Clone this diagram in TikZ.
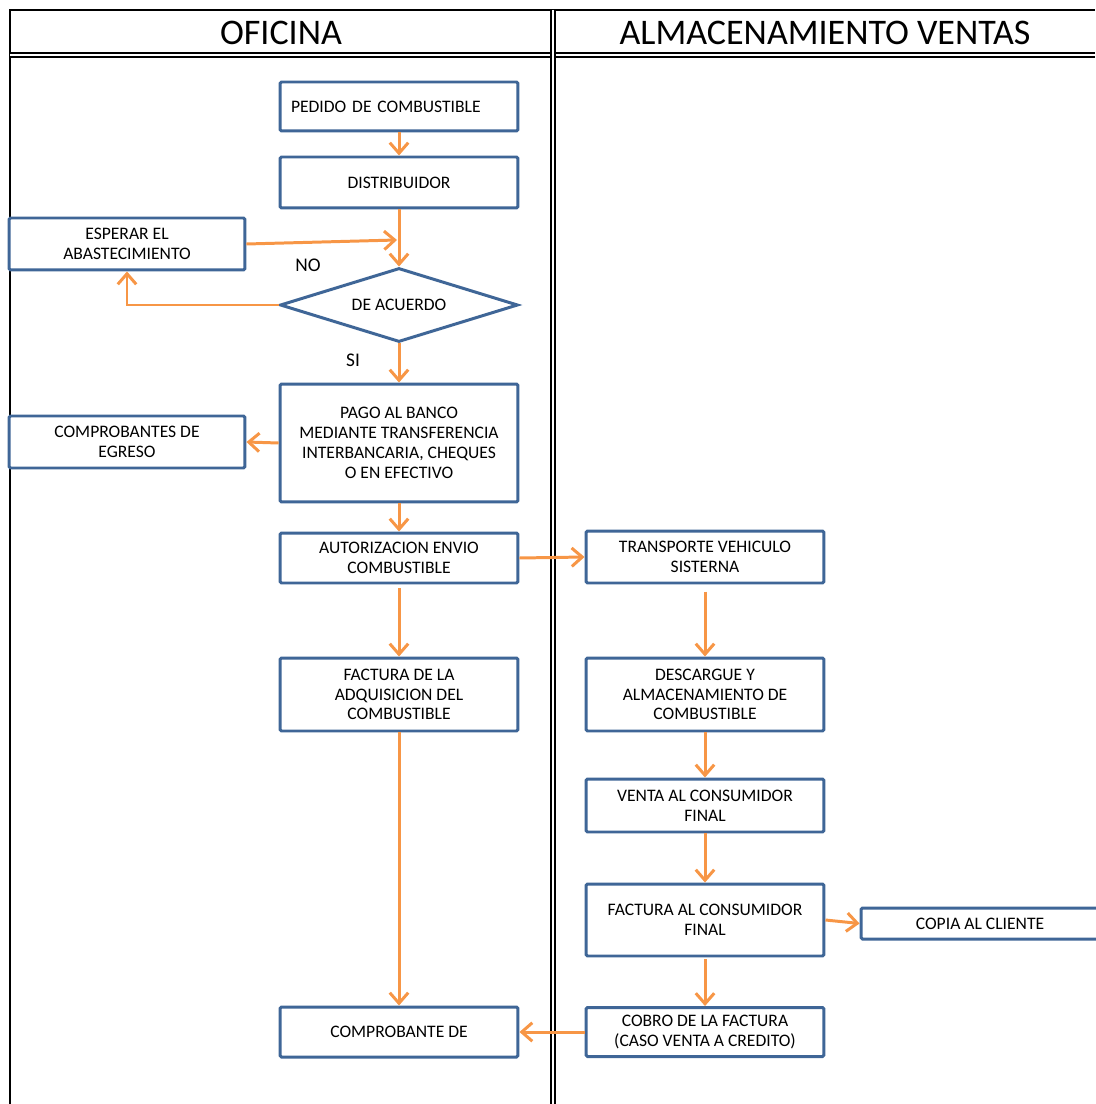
\documentclass[tikz,border=0pt]{standalone}
\usepackage{fontspec}
\setmainfont{Carlito}
\usetikzlibrary{arrows.meta,shapes.geometric,positioning}
\definecolor{borde}{HTML}{3F6697}
\definecolor{naranja}{HTML}{F79646}
\tikzset{
  pre/.style      = {{Straight Barb[length=6pt,width=10.5pt]}-, draw=naranja, line width=1.7pt},
  post/.style     = {-{Straight Barb[length=6pt,width=10.5pt]}, draw=naranja, line width=1.7pt},
  paso/.style     = {draw=borde, line width=1.7pt, fill=white, rectangle, rounded corners=0.8pt,
                     minimum width=4.76cm, inner sep=2pt, align=center,
                     font=\fontsize{10}{11.3}\selectfont},
  decision/.style = {draw=borde, line width=1.7pt, fill=white, diamond, aspect=3.2,
                     minimum width=4.76cm, minimum height=1.48cm, inner sep=0pt,
                     font=\fontsize{10}{11.3}\selectfont},
  carril/.style   = {draw=black, line width=1.2pt},
  divisor/.style  = {draw=black, line width=1.1pt, double, double distance=1.1pt},
  titulo/.style   = {font=\fontsize{20.5}{24}\selectfont},
  etiqueta/.style = {font=\fontsize{11}{13}\selectfont}
}

\begin{document}
\begin{tikzpicture}[x=0.02cm, y=-0.02cm]
  \useasboundingbox (0,0) rectangle (1095,1104);

  % carriles
  \draw[carril] (10,1104) -- (10,10) -- (1095,10);
  \draw[divisor] (10,55) -- (1095,55);
  \draw[divisor] (553,10) -- (553,1104);
  \node[titulo] (oficina) at (281,33) {OFICINA};
  \node[titulo] (almacen) at (825,33) {ALMACENAMIENTO VENTAS};

  % oficina
  \node[paso, minimum height=0.98cm, text width=4.32cm, align=left] (pedido) at (399,106.5) {PEDIDO DE COMBUSTIBLE};
  \node[paso, minimum height=1.02cm] (distrib) at (399,182.5) {DISTRIBUIDOR}
    edge [pre] (pedido);
  \node[paso, minimum height=1.04cm, minimum width=4.72cm] (esperar) at (127,244) {ESPERAR EL\\ABASTECIMIENTO};
  \node[decision] (acuerdo) at (399,305) {DE ACUERDO}
    edge [pre] (distrib);
  \coordinate (union) at (397,240);
  \node[etiqueta] (no) at (308,265) {NO};
  \node[etiqueta] (si) at (353,360) {SI};
  \node[paso, minimum height=2.36cm] (pago) at (399,443)
    {PAGO AL BANCO\\MEDIANTE TRANSFERENCIA\\INTERBANCARIA, CHEQUES\\O EN EFECTIVO}
    edge [pre] (acuerdo);
  \node[paso, minimum height=1.04cm, minimum width=4.72cm] (egreso) at (127,442) {COMPROBANTES DE\\EGRESO};
  \node[paso, minimum height=1cm] (autoriz) at (399,558) {AUTORIZACION ENVIO\\COMBUSTIBLE}
    edge [pre] (pago);
  \node[paso, minimum height=1.46cm] (adquis) at (399,694.5) {FACTURA DE LA\\ADQUISICION DEL\\COMBUSTIBLE};
  \node[paso, minimum height=1cm] (comprob) at (399,1032) {COMPROBANTE DE}
    edge [pre] (adquis);

  % almacenamiento ventas
  \node[paso, minimum height=1.04cm] (transp) at (705,557) {TRANSPORTE VEHICULO\\SISTERNA};
  \node[paso, minimum height=1.46cm] (descarg) at (705,694.5) {DESCARGUE Y\\ALMACENAMIENTO DE\\COMBUSTIBLE};
  \node[paso, minimum height=1.06cm] (venta) at (705,805.5) {VENTA AL CONSUMIDOR\\FINAL}
    edge [pre] (descarg);
  \node[paso, minimum height=1.44cm] (factcf) at (705,920) {FACTURA AL CONSUMIDOR\\FINAL}
    edge [pre] (venta);
  \node[paso, minimum height=0.62cm] (copia) at (980,923.5) {COPIA AL CLIENTE};
  \node[paso, minimum height=0.98cm] (cobro) at (705,1032) {COBRO DE LA FACTURA\\(CASO VENTA A CREDITO)};

  % flechas
  \draw[post] (esperar.east) -- (union);
  \draw[post] (acuerdo.west) -| (esperar.south);
  \draw[post] (pago.west) -- (egreso.east);
  \draw[post] (autoriz.east) -- (transp.west);
  \draw[post, shorten <=2pt] (autoriz.south) -- (adquis.north);
  \draw[post, shorten <=4pt] (transp.south) -- (descarg.north);
  \draw[post] (factcf.east) -- (copia.west);
  \draw[post, shorten <=1pt] (factcf.south) -- (cobro.north);
  \draw[post] (cobro.west) -- (comprob.east);
\end{tikzpicture}
\end{document}
